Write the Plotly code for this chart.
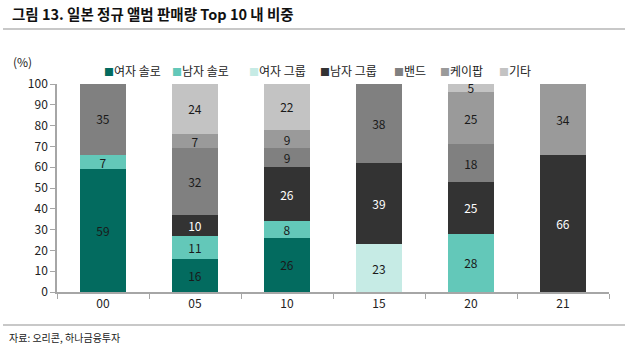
import plotly.graph_objects as go

years = ["00", "05", "10", "15", "20", "21"]

female_solo = [59, 16, 26, None, None, None]
male_solo = [7, 11, 8, None, 28, None]
female_group = [None, None, None, 23, None, None]
male_group = [None, 10, 26, 39, 25, 66]
band = [35, 32, 9, 38, 18, None]
kpop = [None, 7, 9, None, 25, 34]
other = [None, 24, 22, None, 5, None]

series = [
    ("여자 솔로", female_solo, "#036B5F", "#1a1a1a"),
    ("남자 솔로", male_solo, "#63C8B9", "#1a1a1a"),
    ("여자 그룹", female_group, "#C6EBE5", "#1a1a1a"),
    ("남자 그룹", male_group, "#333333", "#ffffff"),
    ("밴드", band, "#808080", "#1a1a1a"),
    ("케이팝", kpop, "#9A9A9A", "#1a1a1a"),
    ("기타", other, "#C3C3C3", "#1a1a1a"),
]

FONT = "Noto Sans CJK KR"

fig = go.Figure()
for name, vals, color, tcolor in series:
    fig.add_trace(go.Bar(
        x=years, y=vals, name=name,
        marker=dict(color=color, line=dict(width=0)),
        text=[("" if v is None else str(v)) for v in vals],
        texttemplate="%{text}",
        textposition="inside",
        insidetextanchor="middle",
        textangle=0,
        constraintext="none",
        textfont=dict(family=FONT, size=12, color=tcolor),
        showlegend=False,
    ))

fig.update_layout(
    width=625, height=345,
    barmode="stack", bargap=0.5,
    margin=dict(l=57, r=16, t=84, b=53),
    plot_bgcolor="white", paper_bgcolor="white",
    font=dict(family=FONT, size=12, color="#222222"),
    uniformtext=dict(minsize=12, mode="show"),
    xaxis=dict(
        type="category", showline=True, linecolor="#A6A6A6", linewidth=1.5,
        ticks="outside", tickson="boundaries", ticklen=5, tickcolor="#A6A6A6",
        showgrid=False, tickfont=dict(size=12, color="#222222"),
    ),
    yaxis=dict(
        range=[0, 100], dtick=10, showline=True, linecolor="#A6A6A6", linewidth=1.5,
        ticks="outside", ticklen=5, tickcolor="#A6A6A6", showgrid=False,
        zeroline=False, tickfont=dict(size=12, color="#222222"),
    ),
)

# Title, rules and axis unit
fig.add_annotation(text="<b>그림 13. 일본 정규 앨범 판매량 Top 10 내 비중</b>",
                   xref="paper", yref="paper", x=-47/552, y=1 + (84 - 13) / 208,
                   xanchor="left", yanchor="middle", showarrow=False,
                   font=dict(family=FONT, size=14.5, color="#111111"))
fig.add_shape(type="line", xref="paper", yref="paper",
              x0=-54/552, x1=(625 - 57) / 552, y0=1 + (84 - 29) / 208, y1=1 + (84 - 29) / 208,
              line=dict(color="#C8C8C8", width=2))
fig.add_shape(type="line", xref="paper", yref="paper",
              x0=-54/552, x1=(625 - 57) / 552, y0=-(325 - 292) / 208, y1=-(325 - 292) / 208,
              line=dict(color="#C8C8C8", width=2))
fig.add_annotation(text="(%)", xref="paper", yref="paper",
                   x=-46/552, y=1 + (84 - 62) / 208, xanchor="left", yanchor="middle",
                   showarrow=False, font=dict(family=FONT, size=12, color="#222222"))
fig.add_annotation(text="자료: 오리콘, 하나금융투자", xref="paper", yref="paper",
                   x=-50/552, y=-(337 - 292) / 208, xanchor="left", yanchor="middle",
                   showarrow=False, font=dict(family=FONT, size=10, color="#222222"))

# Legend row
legend_x = [102, 170, 247, 318, 392, 438, 497]
for (name, vals, color, tcolor), px in zip(series, legend_x):
    fig.add_annotation(
        text=f"<span style='color:{color};font-size:10px'>■</span>{name}",
        xref="paper", yref="paper", x=(px - 57) / 552, y=1 + (84 - 70) / 208,
        xanchor="left", yanchor="middle", showarrow=False,
        font=dict(family=FONT, size=12, color="#222222"))

fig.write_html("out.html")
